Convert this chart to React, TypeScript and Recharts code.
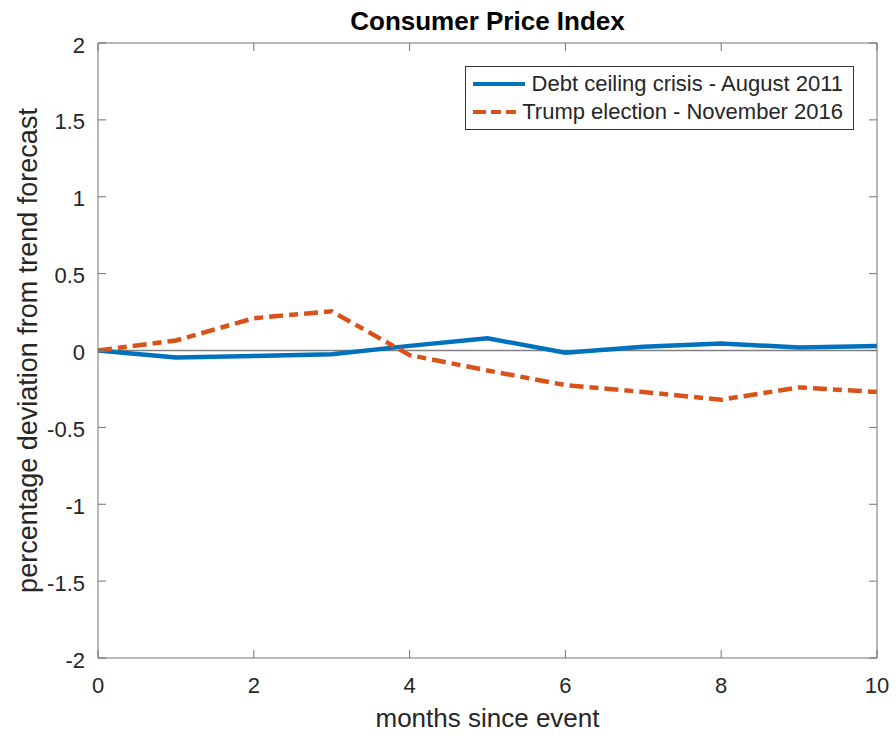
import { LineChart, Line, XAxis, YAxis, ReferenceLine, Legend } from "recharts";

const months = [0, 1, 2, 3, 4, 5, 6, 7, 8, 9, 10];
const debtCeiling2011 = [0, -0.045, -0.035, -0.025, 0.03, 0.08, -0.015, 0.025, 0.045, 0.02, 0.03];
const trumpElection2016 = [0, 0.065, 0.21, 0.255, -0.03, -0.13, -0.225, -0.27, -0.32, -0.24, -0.27];

const xTicks = [0, 2, 4, 6, 8, 10];
const yTicks = [-2, -1.5, -1, -0.5, 0, 0.5, 1, 1.5, 2];

const seriesNames = ["Debt ceiling crisis - August 2011", "Trump election - November 2016"];

const data = months.map((m, i) => ({
  month: m,
  debt: debtCeiling2011[i],
  trump: trumpElection2016[i],
}));

const BLUE = "#0072BD";
const ORANGE = "#D95319";
const FRAME = "#737373";
const TEXT = "#262626";
const FONT = "'Liberation Sans', Arial, Helvetica, sans-serif";
const TICK_LEN = 8;

const BottomTick = (props: any) => {
  const { x, y, payload } = props;
  return (
    <g>
      <line x1={x} y1={y} x2={x} y2={y - TICK_LEN} stroke={FRAME} strokeWidth={1} />
      <text x={x} y={y + 27} textAnchor="middle" dominantBaseline="central" fontSize={22} fill={TEXT} fontFamily={FONT}>
        {payload.value}
      </text>
    </g>
  );
};

const TopTick = (props: any) => {
  const { x, y } = props;
  return <line x1={x} y1={y} x2={x} y2={y + TICK_LEN} stroke={FRAME} strokeWidth={1} />;
};

const LeftTick = (props: any) => {
  const { x, y, payload } = props;
  return (
    <g>
      <line x1={x} y1={y} x2={x + TICK_LEN} y2={y} stroke={FRAME} strokeWidth={1} />
      <text x={x - 13} y={y + 2} textAnchor="end" dominantBaseline="central" fontSize={22} fill={TEXT} fontFamily={FONT}>
        {payload.value}
      </text>
    </g>
  );
};

const RightTick = (props: any) => {
  const { x, y } = props;
  return <line x1={x} y1={y} x2={x - TICK_LEN} y2={y} stroke={FRAME} strokeWidth={1} />;
};

const renderLegend = () => (
  <div
    style={{
      border: "1px solid #333",
      background: "#fff",
      padding: "3px 10px 3px 6px",
      fontFamily: FONT,
      fontSize: 22,
      color: TEXT,
      boxSizing: "border-box",
    }}
  >
    {seriesNames.map((name, i) => (
      <div key={name} style={{ display: "flex", alignItems: "center", height: 28 }}>
        <svg width={54} height={10} style={{ marginRight: 6 }}>
          <line
            x1={1}
            y1={5}
            x2={53}
            y2={5}
            stroke={i === 0 ? BLUE : ORANGE}
            strokeWidth={4}
            strokeDasharray={i === 0 ? undefined : "13 5 10 5"}
          />
        </svg>
        <span style={{ whiteSpace: "nowrap" }}>{name}</span>
      </div>
    ))}
  </div>
);

export default function App() {
  return (
    <div style={{ position: "absolute", left: 0, top: 0, background: "#fff" }}>
      <LineChart width={896} height={737} data={data} margin={{ top: 0, right: 0, bottom: 0, left: 0 }}>
        <XAxis
          dataKey="month"
          type="number"
          domain={[0, 10]}
          ticks={xTicks}
          height={79}
          tickSize={0}
          tickMargin={0}
          tickLine={false}
          axisLine={{ stroke: FRAME, strokeWidth: 1 }}
          tick={BottomTick}
          interval={0}
          label={{
            content: (p: any) => (
              <text
                x={p.viewBox.x + p.viewBox.width / 2}
                y={718}
                textAnchor="middle"
                dominantBaseline="central"
                fontSize={26}
                fill={TEXT}
                fontFamily={FONT}
              >
                months since event
              </text>
            ),
          }}
        />
        <XAxis
          xAxisId="top"
          orientation="top"
          type="number"
          domain={[0, 10]}
          allowDataOverflow
          ticks={xTicks}
          height={43}
          tickSize={0}
          tickMargin={0}
          tickLine={false}
          axisLine={{ stroke: FRAME, strokeWidth: 1 }}
          tick={TopTick}
          interval={0}
          label={{
            content: (p: any) => (
              <text
                x={p.viewBox.x + p.viewBox.width / 2}
                y={21}
                textAnchor="middle"
                dominantBaseline="central"
                fontSize={26}
                fontWeight="bold"
                fill="#000"
                fontFamily={FONT}
              >
                Consumer Price Index
              </text>
            ),
          }}
        />
        <YAxis
          type="number"
          domain={[-2, 2]}
          ticks={yTicks}
          width={98}
          tickSize={0}
          tickMargin={0}
          tickLine={false}
          axisLine={{ stroke: FRAME, strokeWidth: 1 }}
          tick={LeftTick}
          interval={0}
          label={{
            content: (p: any) => {
              const cy = p.viewBox.y + p.viewBox.height / 2;
              return (
                <text
                  x={28}
                  y={cy}
                  transform={`rotate(-90 28 ${cy})`}
                  textAnchor="middle"
                  dominantBaseline="central"
                  fontSize={27}
                  fill={TEXT}
                  fontFamily={FONT}
                >
                  percentage deviation from trend forecast
                </text>
              );
            },
          }}
        />
        <YAxis
          yAxisId="right"
          orientation="right"
          type="number"
          domain={[-2, 2]}
          allowDataOverflow
          ticks={yTicks}
          width={19}
          tickSize={0}
          tickMargin={0}
          tickLine={false}
          axisLine={{ stroke: FRAME, strokeWidth: 1 }}
          tick={RightTick}
          interval={0}
        />
        <ReferenceLine y={0} stroke="#808080" strokeWidth={1.5} />
        <Line
          dataKey="debt"
          name={seriesNames[0]}
          stroke={BLUE}
          strokeWidth={4.5}
          dot={false}
          activeDot={false}
          type="linear"
          isAnimationActive={false}
        />
        <Line
          dataKey="trump"
          name={seriesNames[1]}
          stroke={ORANGE}
          strokeWidth={4.5}
          strokeDasharray="14 6 9 6"
          dot={false}
          activeDot={false}
          type="linear"
          isAnimationActive={false}
        />
        <Legend
          layout="vertical"
          align="center"
          verticalAlign="middle"
          content={renderLegend}
          wrapperStyle={{ position: "absolute", left: 465, top: 66, width: 389 }}
        />
      </LineChart>
    </div>
  );
}
